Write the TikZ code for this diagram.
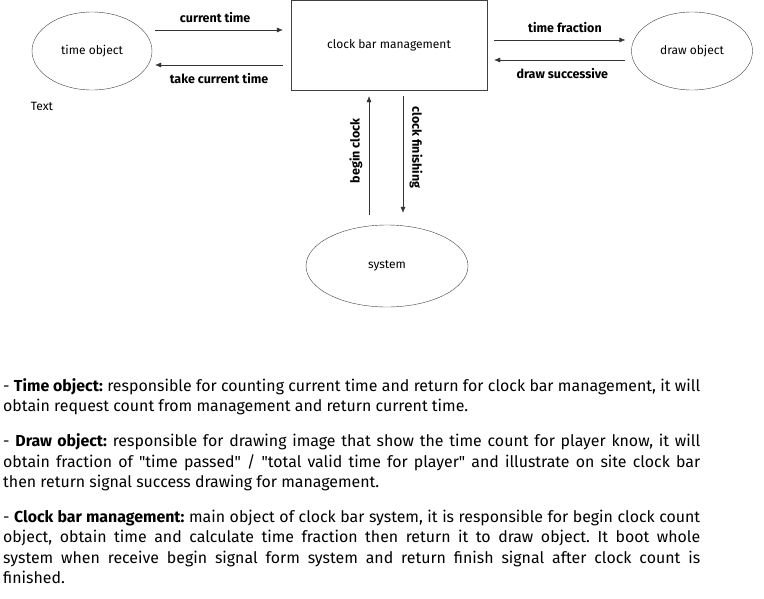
\documentclass[tikz,border=0pt]{standalone}
\usepackage{fontspec}
\setmainfont{Fira Sans}
\usetikzlibrary{shapes.geometric,arrows.meta}
\tikzset{
  entity/.style={ellipse,draw=black!75,minimum width=120,minimum height=78,font=\fontsize{12}{14}\selectfont},
  flow/.style={-{Latex[length=6pt,width=5pt]},draw=black!80},
  flowlabel/.style={font=\bfseries\fontsize{12.5}{14}\selectfont}
}
\begin{document}
\begin{tikzpicture}[x=1pt,y=-1pt]
  \useasboundingbox (0,0) rectangle (764,598);
  \node[entity] (time) at (92,51) {time object};
  \node[draw=black!75,minimum width=196,minimum height=90,font=\fontsize{12}{14}\selectfont] (manager) at (389,45) {clock bar management};
  \node[entity,minimum width=121] (drawobj) at (692,51) {draw object};
  \node[entity,minimum width=162,minimum height=82] (system) at (387,266) {system};
  \node[font=\fontsize{12}{14}\selectfont] (note) at (42,106) {Text};
  \draw[flow] ([xshift=3pt,yshift=21pt]time.east) -- node[flowlabel,above=4pt,pos=0.47] {current time} ([xshift=-8pt,yshift=15pt]manager.west);
  \draw[flow] ([xshift=-8pt,yshift=-20pt]manager.west) -- node[flowlabel,below=5pt,pos=0.5] {take current time} ([xshift=3pt,yshift=-14pt]time.east);
  \draw[flow] ([xshift=7pt,yshift=5pt]manager.east) -- node[flowlabel,above=4pt,pos=0.54] {time fraction} ([xshift=-6pt,yshift=11pt]drawobj.west);
  \draw[flow] ([xshift=-6pt,yshift=-9pt]drawobj.west) -- node[flowlabel,below=5pt,pos=0.48] {draw successive} ([xshift=7pt,yshift=-15pt]manager.east);
  \draw[flow] ([xshift=-18pt,yshift=10pt]system.north) -- node[flowlabel,above=3pt,sloped,pos=0.54] {begin clock} ([xshift=-20pt,yshift=-6pt]manager.south);
  \draw[flow] ([xshift=14pt,yshift=-6pt]manager.south) -- node[flowlabel,above=3pt,sloped,pos=0.44] {clock finishing} ([xshift=16pt,yshift=12pt]system.north);
  \node[anchor=north west,text width=697,align=justify,inner sep=0,font=\fontsize{15.9}{20.3}\selectfont] (notes) at (3,378) {\frenchspacing
    - \textbf{Time object:} responsible for counting current time and return for clock bar management, it will\linebreak obtain request count from management and return current time.\par\vspace{15pt}
    - \textbf{Draw object:} responsible for drawing image that show the time count for player know, it will\linebreak obtain fraction of \textquotedbl time passed\textquotedbl{} / \textquotedbl total valid time for player\textquotedbl{} and illustrate on site clock bar\linebreak then return signal success drawing for management.\par\vspace{15pt}
    - \textbf{Clock bar management:} main object of clock bar system, it is responsible for begin clock count\linebreak object, obtain time and calculate time fraction then return it to draw object. It boot whole\linebreak system when receive begin signal form system and return finish signal after clock count is\linebreak finished.};
\end{tikzpicture}
\end{document}
